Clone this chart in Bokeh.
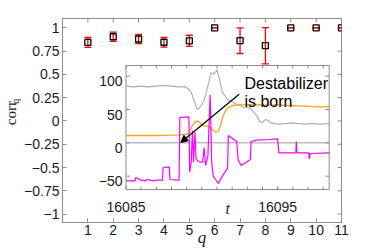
import math
from bokeh.plotting import figure
from bokeh.layouts import row
from bokeh.models import Range1d, FixedTicker, Arrow, NormalHead
from bokeh.embed import file_html
from bokeh.resources import INLINE
from bokeh.core.properties import value

# ---------------- main data ----------------
Q = [1, 2, 3, 4, 5, 6, 7, 8, 9, 10, 11]
CORR = [0.843, 0.904, 0.88, 0.845, 0.86, 1.0, 0.862, 0.808, 1.0, 1.0, 1.0]
CORR_ERR = [0.053, 0.05, 0.05, 0.052, 0.06, 0.0, 0.138, 0.195, 0.0, 0.0, 0.0]

Q_TICKS = [1, 2, 3, 4, 5, 6, 7, 8, 9, 10, 11]
CORR_TICKS = [-1, -0.75, -0.5, -0.25, 0, 0.25, 0.5, 0.75, 1]
CORR_TICK_LABELS = ["\u22121", "\u22120.75", "\u22120.5", "\u22120.25", "0", "0.25", "0.5", "0.75", "1"]

# ---------------- inset data ----------------
T_GRAY = [16085.0, 16085.5, 16086.0, 16086.5, 16087.0, 16087.5, 16088.0, 16088.5, 16088.9,
          16089.1, 16089.3, 16089.5, 16089.7, 16089.85, 16090.0, 16090.15, 16090.3, 16090.45,
          16090.6, 16090.8, 16091.0, 16091.15, 16091.35, 16091.7, 16092.1, 16092.5, 16092.8,
          16093.2, 16093.45, 16093.65, 16093.85, 16094.0, 16094.2, 16094.4, 16094.55, 16094.8,
          16095.1, 16095.5, 16096.0, 16096.4, 16096.8, 16097.3, 16097.8, 16098.4]
V_GRAY = [85, 84, 85, 84, 85, 86, 85, 84, 84,
          81, 76, 62, 50, 53, 57, 64, 76, 90,
          105, 103, 109, 97, 76, 65, 60, 56, 53,
          52, 45, 40, 31, 31, 35, 33, 30, 29,
          28, 29, 30, 29, 28, 29, 28, 29]

T_ORANGE = [16085.0, 16086.0, 16087.0, 16088.0, 16088.6, 16089.0, 16089.2, 16089.35, 16089.55,
            16089.7, 16089.85, 16090.0, 16090.2, 16090.4, 16090.6, 16090.8, 16090.95, 16091.1,
            16091.25, 16091.4, 16091.55, 16091.75, 16092.0, 16092.4, 16093.0, 16093.5, 16094.0,
            16094.5, 16095.0, 16095.5, 16096.0, 16096.5, 16097.0, 16097.5, 16098.0, 16098.4]
V_ORANGE = [11, 11, 11, 11.5, 12, 13, 17, 25, 31,
            33, 31, 27, 25, 25, 22, 17, 15.5, 18,
            27, 40, 48, 53, 56, 57, 57, 57.5, 57,
            56.5, 57, 56, 56, 55, 55, 54, 54, 54]

T_MAG = [16085.0, 16085.6, 16085.65, 16086.0, 16086.3, 16086.35, 16086.8, 16087.0, 16087.4,
         16087.45, 16087.85, 16087.9, 16088.5, 16088.55, 16089.15, 16089.2, 16089.3, 16089.38,
         16089.45, 16089.55, 16089.62, 16089.7, 16089.9, 16090.05, 16090.15, 16090.25, 16090.4,
         16090.55, 16090.65, 16090.75, 16090.9, 16091.1, 16091.3, 16091.5, 16091.7, 16091.75,
         16092.0, 16092.3, 16092.4, 16092.6, 16093.2, 16093.25, 16093.6, 16094.5, 16095.0,
         16095.08, 16096.2, 16096.23, 16096.27, 16097.05, 16097.1, 16097.15, 16098.4]
V_MAG = [-57, -57, -52, -56, -57, -55, -57, -56, -56,
         -37, -36, -55, -56, 38, 39, -44, -29, 18,
         -29, 16, -24, -26, -29, -29, -7, -34, -20,
         72, -29, -50, -55, -61, -52, -45, -38, 11,
         7, 2, -26, -34, -25, 2, 4, 5, 6,
         -15, -15, 2, -15, -15, -24, -16, -15]

T_LABEL_TICKS = [16085, 16095]
T_TICK_LABELS = ["16085", "16095"]
T_MINOR_TICKS = list(range(16086, 16099))
YI_TICKS = [-50, 0, 50, 100]
YI_TICK_LABELS = ["\u221250", "0", "50", "100"]

ARROW_TAIL = (16092.46, 72.9)
ARROW_HEAD = (16088.61, 0.5)
NOTE_POS = (16092.81, 88.5, 62.4)
NOTE_LINES = ["Destabilizer", "is born"]

# ---------------- geometry ----------------
LW = 21                    # width of the strip that holds the y title
FW, FH = 279, 204          # main frame size (px)
BL, BT, BR, BB = 39, 18, 35, 28
X_MAIN = (0, 11)
Y_MAIN = (-1.09, 1.1)
# inset box inside main frame (px from frame left / top)
IL, IR, IT, IB = 63.5, 266.7, 47.0, 171.0
T0, T1 = 16085.0, 16098.4
YI0, YI1 = -70.0, 116.0

sx = (T1 - T0) / (IR - IL)
tx_start = T0 - IL * sx
tx_end = tx_start + FW * sx
sy = (YI1 - YI0) / (IB - IT)
iy_start = YI0 - (FH - IB) * sy
iy_end = iy_start + FH * sy

AX_GRAY = "#8c8c8c"
TXT = "#1a1a1a"
SANS = "Liberation Sans"
SERIF = "Liberation Serif"

p = figure(frame_width=FW, frame_height=FH,
           x_range=Range1d(*X_MAIN), y_range=Range1d(*Y_MAIN),
           output_backend="svg", toolbar_location=None,
           min_border_left=BL, min_border_right=BR, min_border_top=BT, min_border_bottom=BB,
           background_fill_color="white", border_fill_color="white")
p.grid.visible = False
p.outline_line_color = AX_GRAY
p.extra_x_ranges = {"tx": Range1d(tx_start, tx_end)}
p.extra_y_ranges = {"iy": Range1d(iy_start, iy_end)}


def style_axis(ax, ticks, standoff):
    ax.ticker = FixedTicker(ticks=ticks)
    ax.axis_line_color = AX_GRAY
    ax.major_tick_line_color = AX_GRAY
    ax.major_tick_in = 4
    ax.major_tick_out = 0
    ax.minor_tick_line_color = None
    ax.major_label_text_font = SANS
    ax.major_label_text_color = TXT
    ax.major_label_text_font_size = "14px"
    ax.major_label_standoff = standoff


style_axis(p.below[0], Q_TICKS, 2)
style_axis(p.left[0], CORR_TICKS, 3)
p.left[0].major_label_overrides = {t: s for t, s in zip(CORR_TICKS, CORR_TICK_LABELS)}
xb = p.below[0]
xb.axis_label = "q"
xb.axis_label_text_font = SERIF
xb.axis_label_text_font_style = "italic"
xb.axis_label_text_font_size = "17px"
xb.axis_label_text_color = TXT
xb.axis_label_standoff = -10

# ticks on the top and right edges of the box
p.ray(x=Q_TICKS, y=[Y_MAIN[1]] * len(Q_TICKS), length=4, length_units="screen",
      angle=-math.pi / 2, line_color=AX_GRAY, line_width=1)
p.ray(x=[X_MAIN[1]] * len(CORR_TICKS), y=CORR_TICKS, length=4, length_units="screen",
      angle=math.pi, line_color=AX_GRAY, line_width=1)

# ---------------- main error bars + markers ----------------
lo = [c - e for c, e in zip(CORR, CORR_ERR)]
hi = [c + e for c, e in zip(CORR, CORR_ERR)]
p.segment(x0=Q, y0=lo, x1=Q, y1=hi, line_color="red", line_width=1.3)
p.scatter(Q, lo, marker="dash", size=7, line_color="red", line_width=1.3)
p.scatter(Q, hi, marker="dash", size=7, line_color="red", line_width=1.3)
p.scatter(Q, CORR, marker="square", size=6, line_color="black", fill_alpha=0, line_width=1.3)

# ---------------- inset ----------------
R = dict(x_range_name="tx", y_range_name="iy")
p.quad(left=[T0], right=[T1], bottom=[YI0], top=[YI1], fill_color="white",
       line_color=AX_GRAY, line_width=1, **R)
p.segment(x0=[T0], y0=[0], x1=[T1], y1=[0], line_color="#9a9a9a", line_width=1, **R)

all_t = T_LABEL_TICKS + T_MINOR_TICKS
p.ray(x=all_t, y=[YI0] * len(all_t), length=3, length_units="screen", angle=math.pi / 2,
      line_color=AX_GRAY, line_width=1, **R)
p.ray(x=all_t, y=[YI1] * len(all_t), length=3, length_units="screen", angle=-math.pi / 2,
      line_color=AX_GRAY, line_width=1, **R)
p.ray(x=[T0] * len(YI_TICKS), y=YI_TICKS, length=4, length_units="screen", angle=0,
      line_color=AX_GRAY, line_width=1, **R)
p.ray(x=[T1] * len(YI_TICKS), y=YI_TICKS, length=4, length_units="screen", angle=math.pi,
      line_color=AX_GRAY, line_width=1, **R)

p.line(T_GRAY, V_GRAY, line_color="#ababab", line_width=1.1, **R)
p.line(T_ORANGE, V_ORANGE, line_color="#ff9f1a", line_width=1.3, **R)
p.line(T_MAG, V_MAG, line_color="#ff00ff", line_width=1.2, **R)

p.add_layout(Arrow(x_start=ARROW_TAIL[0], y_start=ARROW_TAIL[1],
                   x_end=ARROW_HEAD[0], y_end=ARROW_HEAD[1],
                   line_color="black", line_width=1.3,
                   end=NormalHead(size=7, fill_color="black", line_color="black"), **R))

p.text(x=[NOTE_POS[0], NOTE_POS[0]], y=[NOTE_POS[1], NOTE_POS[2]], text=NOTE_LINES,
       text_font=value(SANS), text_font_size="16px", text_color="black",
       text_align="left", text_baseline="alphabetic", **R)

# inset tick labels
p.text(x=T_LABEL_TICKS, y=[YI0] * len(T_LABEL_TICKS), text=T_TICK_LABELS, y_offset=17.5,
       text_font=value(SANS), text_font_size="14px", text_color=TXT,
       text_align="center", text_baseline="alphabetic", **R)
p.text(x=[T0] * len(YI_TICKS), y=YI_TICKS, text=YI_TICK_LABELS, x_offset=-3.5, y_offset=5,
       text_font=value(SANS), text_font_size="14px", text_color=TXT,
       text_align="right", text_baseline="alphabetic", **R)
p.text(x=[(T0 + T1) / 2], y=[YI0], text=["t"], y_offset=19,
       text_font=value(SERIF), text_font_style="italic", text_font_size="16px", text_color=TXT,
       text_align="center", text_baseline="alphabetic", **R)

# ---------------- strip with the rotated y title ----------------
H_TOTAL = BT + FH + BB
lab = figure(width=LW, height=H_TOTAL, x_range=Range1d(0, LW), y_range=Range1d(0, H_TOTAL),
             output_backend="svg", toolbar_location=None,
             x_axis_location=None, y_axis_location=None,
             min_border_left=0, min_border_right=0, min_border_top=0, min_border_bottom=0,
             background_fill_color="white", border_fill_color="white")
lab.grid.visible = False
lab.outline_line_color = None
# positions measured from the top of the page, converted to the strip's upward axis
lab.text(x=[10], y=[H_TOTAL - 116], text=["corr"], angle=math.pi / 2,
         text_font=value(SERIF), text_font_size="15px", text_color=TXT,
         text_align="center", text_baseline="middle")
lab.text(x=[14.5], y=[H_TOTAL - 101.5], text=["q"], angle=math.pi / 2,
         text_font=value(SERIF), text_font_size="10px", text_color=TXT,
         text_align="center", text_baseline="middle")

layout = row(lab, p, spacing=0)
open("out.html", "w").write(file_html(layout, INLINE))
